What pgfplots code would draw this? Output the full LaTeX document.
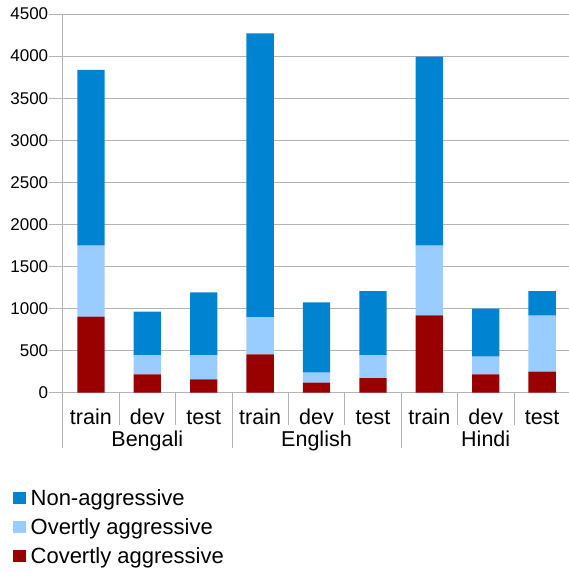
\documentclass[border=0pt]{standalone}
\usepackage{fontspec}
\setmainfont{Liberation Sans}
\usepackage{pgfplots}
\pgfplotsset{compat=1.18}
\definecolor{nonagg}{HTML}{0084D1}
\definecolor{overt}{HTML}{99CCFF}
\definecolor{covert}{HTML}{990000}
\definecolor{gridc}{HTML}{B3B3B3}
\begin{document}
\begin{tikzpicture}
\useasboundingbox (0,0) rectangle (568pt,572pt);
\begin{axis}[
  at={(62.7pt,179.3pt)}, anchor=south west,
  scale only axis, width=507.6pt, height=378.7pt,
  ybar stacked, bar width=27.3pt,
  xmin=-0.5, xmax=8.5, ymin=0, ymax=4500,
  enlargelimits=false, clip=false,
  xtick={0,...,8},
  xticklabels={train,dev,test,train,dev,test,train,dev,test},
  ytick={0,500,...,4500},
  ymajorgrids, grid style={gridc, line width=0.8pt},
  axis x line*=bottom, axis y line*=left,
  axis line style={gridc, line width=0.8pt, -},
  tick align=outside,
  xtick style={draw=none},
  ytick style={gridc, line width=0.8pt},
  major tick length=13.7pt,
  /pgf/number format/assume math mode=true,
  /pgf/number format/1000 sep={},
  yticklabel style={font=\fontsize{17}{20}\selectfont, anchor=east, inner sep=0pt, xshift=-0.6pt},
  xticklabel style={font=\fontsize{21.5}{24}\selectfont, anchor=base, inner sep=0pt, yshift=-18.6pt},
  reverse legend,
  legend cell align=left,
  legend style={draw=none, fill=none, anchor=north west,
    at={(axis description cs:-0.0980,-0.2517)},
    font=\fontsize{22}{24}\selectfont,
    row sep=6pt, column sep=3.5pt, inner sep=0pt,
    nodes={inner sep=1pt, text height=16pt, text depth=5pt}},
  legend image code/.code={\fill[#1] (0pt,-4pt) rectangle (13pt,8pt);},
]
\addplot[fill=covert, draw=none] coordinates {(0,903) (1,218) (2,158) (3,456) (4,119) (5,174) (6,919) (7,218) (8,250)};
\addplot[fill=overt, draw=none] coordinates {(0,844) (1,226) (2,286) (3,439) (4,119) (5,270) (6,828) (7,210) (8,665)};
\addplot[fill=nonagg, draw=none] coordinates {(0,2088) (1,519) (2,749) (3,3376) (4,836) (5,764) (6,2247) (7,570) (8,293)};
\legend{Covertly aggressive, Overtly aggressive, Non-aggressive}
\pgfplotsinvokeforeach{0.5,1.5,3.5,4.5,6.5,7.5}{
  \draw[gridc, line width=0.8pt] (axis cs:#1,0) -- ++(0pt,-32pt);
}
\pgfplotsinvokeforeach{-0.5,2.5,5.5,8.5}{
  \draw[gridc, line width=0.8pt] (axis cs:#1,0) -- ++(0pt,-55pt);
}
\node[anchor=base, font=\fontsize{21.5}{24}\selectfont] at (axis cs:1,0) [yshift=-53.5pt] {Bengali};
\node[anchor=base, font=\fontsize{21.5}{24}\selectfont] at (axis cs:4,0) [yshift=-53.5pt] {English};
\node[anchor=base, font=\fontsize{21.5}{24}\selectfont] at (axis cs:7,0) [yshift=-53.5pt] {Hindi};
\end{axis}
\end{tikzpicture}
\end{document}
